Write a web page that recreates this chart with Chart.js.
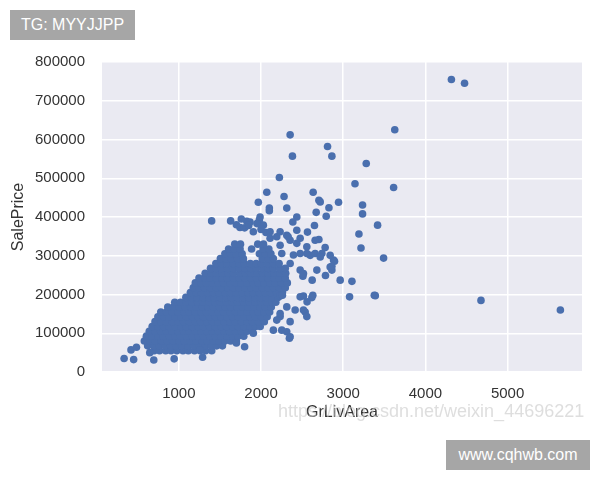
<!DOCTYPE html>
<html>
<head>
<meta charset="utf-8">
<script src="https://cdn.jsdelivr.net/npm/chart.js@4"></script>
<style>
  body { margin: 0; background: #fff; font-family: "Liberation Sans", Arial, sans-serif; }
  #wrap { position: relative; width: 600px; height: 480px; }
  canvas { position: absolute; left: 0; top: 0; }
  .tag { position: absolute; background: #a6a6a6; color: #fff; font-size: 16px;
         display: flex; align-items: center; justify-content: center; }
  #mark { position: absolute; left: 278px; top: 401px; font-size: 18px; color: rgba(200,200,200,0.6);
          white-space: nowrap; }
</style>
</head>
<body>
<div id="wrap">
  <canvas id="scatter" width="600" height="480"></canvas>
  <div id="mark">https://blog.csdn.net/weixin_44696221</div>
  <div class="tag" style="left:10px;top:10px;width:125px;height:30px;">TG: MYYJJPP</div>
  <div class="tag" style="left:446px;top:440px;width:144px;height:30px;">www.cqhwb.com</div>
</div>
<script>
const xTicks = [1000, 2000, 3000, 4000, 5000];
const yTicks = [0, 100000, 200000, 300000, 400000, 500000, 600000, 700000, 800000];

// dense cluster, read row by row: [SalePrice, [GrLivArea...]]
const coreRows = [
  [55000, [700, 765, 840, 905, 975, 1050, 1115, 1190, 1260, 1325, 1400]],
  [67500, [620, 690, 760, 830, 900, 965, 1035, 1110, 1180, 1250, 1320, 1390, 1460, 1530]],
  [80000, [580, 650, 715, 790, 860, 925, 1000, 1065, 1140, 1210, 1280, 1345, 1420, 1490, 1560, 1630, 1700]],
  [92500, [605, 675, 745, 810, 885, 955, 1020, 1095, 1165, 1235, 1300, 1375, 1445, 1510, 1585, 1655, 1720, 1790]],
  [105000, [640, 710, 780, 850, 915, 990, 1060, 1125, 1200, 1270, 1340, 1405, 1480, 1550, 1615, 1690, 1760, 1830, 1895]],
  [117500, [675, 745, 815, 880, 955, 1025, 1090, 1165, 1235, 1300, 1375, 1445, 1515, 1580, 1655, 1725, 1790, 1865, 1935, 1990]],
  [130000, [710, 780, 845, 920, 990, 1055, 1130, 1200, 1265, 1340, 1410, 1475, 1550, 1620, 1685, 1760, 1830, 1895, 1970, 2040]],
  [142500, [745, 815, 880, 955, 1025, 1090, 1165, 1235, 1300, 1375, 1445, 1510, 1585, 1655, 1720, 1795, 1865, 1930, 2005, 2075]],
  [155000, [780, 850, 915, 990, 1060, 1125, 1200, 1270, 1335, 1410, 1480, 1545, 1620, 1690, 1755, 1830, 1900, 1965, 2040, 2105]],
  [167500, [865, 935, 1000, 1075, 1145, 1210, 1285, 1355, 1420, 1495, 1565, 1630, 1705, 1775, 1840, 1915, 1985, 2050, 2125]],
  [180000, [950, 1020, 1085, 1160, 1230, 1295, 1370, 1440, 1505, 1580, 1650, 1715, 1790, 1860, 1925, 2000, 2070, 2135, 2180]],
  [192500, [1085, 1155, 1220, 1295, 1365, 1430, 1505, 1575, 1640, 1715, 1785, 1850, 1925, 1995, 2060, 2135, 2205]],
  [205000, [1140, 1210, 1275, 1350, 1420, 1485, 1560, 1630, 1695, 1770, 1840, 1905, 1980, 2050, 2115, 2190, 2260]],
  [217500, [1175, 1245, 1310, 1385, 1455, 1520, 1595, 1665, 1730, 1805, 1875, 1940, 2015, 2085, 2150, 2225, 2295]],
  [230000, [1200, 1270, 1335, 1410, 1480, 1545, 1620, 1690, 1755, 1830, 1900, 1965, 2040, 2110, 2175, 2250, 2320]],
  [242500, [1245, 1315, 1380, 1455, 1525, 1590, 1665, 1735, 1800, 1875, 1945, 2010, 2085, 2155, 2220, 2295]],
  [255000, [1320, 1390, 1455, 1530, 1600, 1665, 1740, 1810, 1875, 1950, 2020, 2085, 2160, 2230, 2300]],
  [267500, [1385, 1455, 1520, 1595, 1665, 1730, 1805, 1875, 1940, 2015, 2085, 2150, 2225, 2295]],
  [280000, [1450, 1520, 1585, 1660, 1730, 1795, 1870, 1940, 2005, 2080, 2150, 2220]],
  [292500, [1505, 1575, 1640, 1715, 1785, 2015, 2085, 2150]],
  [305000, [1560, 1630, 1695, 1770, 1980, 2050, 2120]],
  [317500, [1605, 1675, 1745, 1885, 2025, 2095]],
  [330000, [1680, 1750, 1960, 2030]]
];

// loose points around the cluster: [GrLivArea, SalePrice]
const scattered = [
  [2070, 464000], [2280, 453000], [2634, 464000], [2704, 443000], [2720, 439000], [2826, 424000],
  [2943, 438000], [1967, 438000], [2101, 423000], [2101, 416000], [2313, 423000], [2435, 400000],
  [2387, 387000], [2671, 412000], [2793, 402000], [3235, 431000], [3235, 408000], [3418, 379000],
  [1630, 390000], [1399, 390000], [3191, 356000], [3216, 320000], [1744, 373000], [1826, 389000],
  [1866, 387000], [1979, 392000], [1988, 400000], [2028, 379000], [1906, 362000], [1700, 380000],
  [1760, 395000], [1800, 372000], [1850, 378000], [1950, 383000], [2000, 368000], [2060, 360000],
  [2110, 345000], [2191, 349000], [2313, 353000], [2110, 362000], [2232, 362000], [2435, 366000],
  [2232, 327000], [2354, 340000], [2476, 345000], [2565, 361000], [2650, 378000], [2704, 342000],
  [2780, 321000], [2740, 306000], [2882, 289000], [2841, 271000], [2784, 249000], [2963, 237000],
  [3106, 234000], [2622, 237000], [2509, 247000], [3077, 194000], [3378, 198000], [2232, 196000],
  [2260, 198000], [2516, 196000], [2630, 198000], [2618, 192000], [2560, 181000], [2330, 349000],
  [2435, 332000], [2557, 323000], [2476, 306000], [2252, 306000], [2598, 301000], [2658, 340000],
  [2658, 306000], [2354, 280000], [2476, 263000], [2862, 263000], [2516, 254000], [2394, 302000],
  [2557, 306000], [2720, 297000], [2679, 263000], [2841, 301000], [2537, 155000], [2415, 160000],
  [2313, 168000], [2232, 143000], [2354, 130000], [2252, 108000], [2345, 87000], [2150, 108000],
  [2191, 134000], [1906, 100000], [2232, 151000], [2313, 104000], [2354, 91000], [2476, 194000],
  [2516, 160000], [2557, 143000], [1800, 65000], [1700, 75000], [334, 35000], [450, 32000],
  [695, 31000], [943, 34000], [1289, 38000], [418, 57000], [484, 64000], [646, 50000], [1256, 57000]
];

const outliers = [
  [4316, 755000], [4476, 745000], [2354, 612000], [2809, 582000], [2382, 557000], [2862, 557000],
  [3627, 625000], [3280, 538000], [2223, 502000], [3143, 486000], [3613, 476000], [3491, 294000],
  [2894, 286000], [2862, 273000], [3390, 197000], [4676, 184750], [5642, 160000]
];

const points = [];
coreRows.forEach(([price, areas]) => areas.forEach(a => points.push({ x: a, y: price })));
scattered.concat(outliers).forEach(([a, price]) => points.push({ x: a, y: price }));

const plotBackground = {
  id: 'plotBackground',
  beforeDraw(chart) {
    const { ctx, chartArea: a } = chart;
    ctx.save();
    ctx.fillStyle = '#eaeaf2';
    ctx.fillRect(a.left, a.top, a.right - a.left, a.bottom - a.top);
    ctx.restore();
  }
};

const font = { family: '"Liberation Sans", Arial, sans-serif', size: 15 };

new Chart(document.getElementById('scatter'), {
  type: 'scatter',
  data: {
    datasets: [{
      data: points,
      backgroundColor: '#4a6fae',
      borderWidth: 0,
      pointRadius: 3.8
    }]
  },
  options: {
    responsive: false,
    animation: false,
    layout: { padding: { left: 0, top: 62, right: 18, bottom: 0 } },
    plugins: { legend: { display: false }, tooltip: { enabled: false } },
    scales: {
      x: {
        type: 'linear',
        min: 65,
        max: 5905,
        afterBuildTicks: s => { s.ticks = xTicks.map(v => ({ value: v })); },
        afterFit: s => { s.height = 108; },
        grid: { color: '#ffffff', lineWidth: 1.5, drawTicks: false },
        border: { display: false },
        ticks: { color: '#333', font, padding: 13, maxRotation: 0, callback: v => String(v) },
        title: { display: true, text: 'GrLivArea', color: '#333',
                 font: { family: font.family, size: 16 }, padding: { top: 0, bottom: 58 } }
      },
      y: {
        type: 'linear',
        min: 0,
        max: 800000,
        afterBuildTicks: s => { s.ticks = yTicks.map(v => ({ value: v })); },
        afterFit: s => { s.width = 102; },
        grid: { color: '#ffffff', lineWidth: 1.5, drawTicks: false },
        border: { display: false },
        ticks: { color: '#333', font, padding: 17, callback: v => String(v) },
        title: { display: true, text: 'SalePrice', color: '#333',
                 font: { family: font.family, size: 16 }, padding: { top: 9, bottom: 0 } }
      }
    }
  },
  plugins: [plotBackground]
});
</script>
</body>
</html>
